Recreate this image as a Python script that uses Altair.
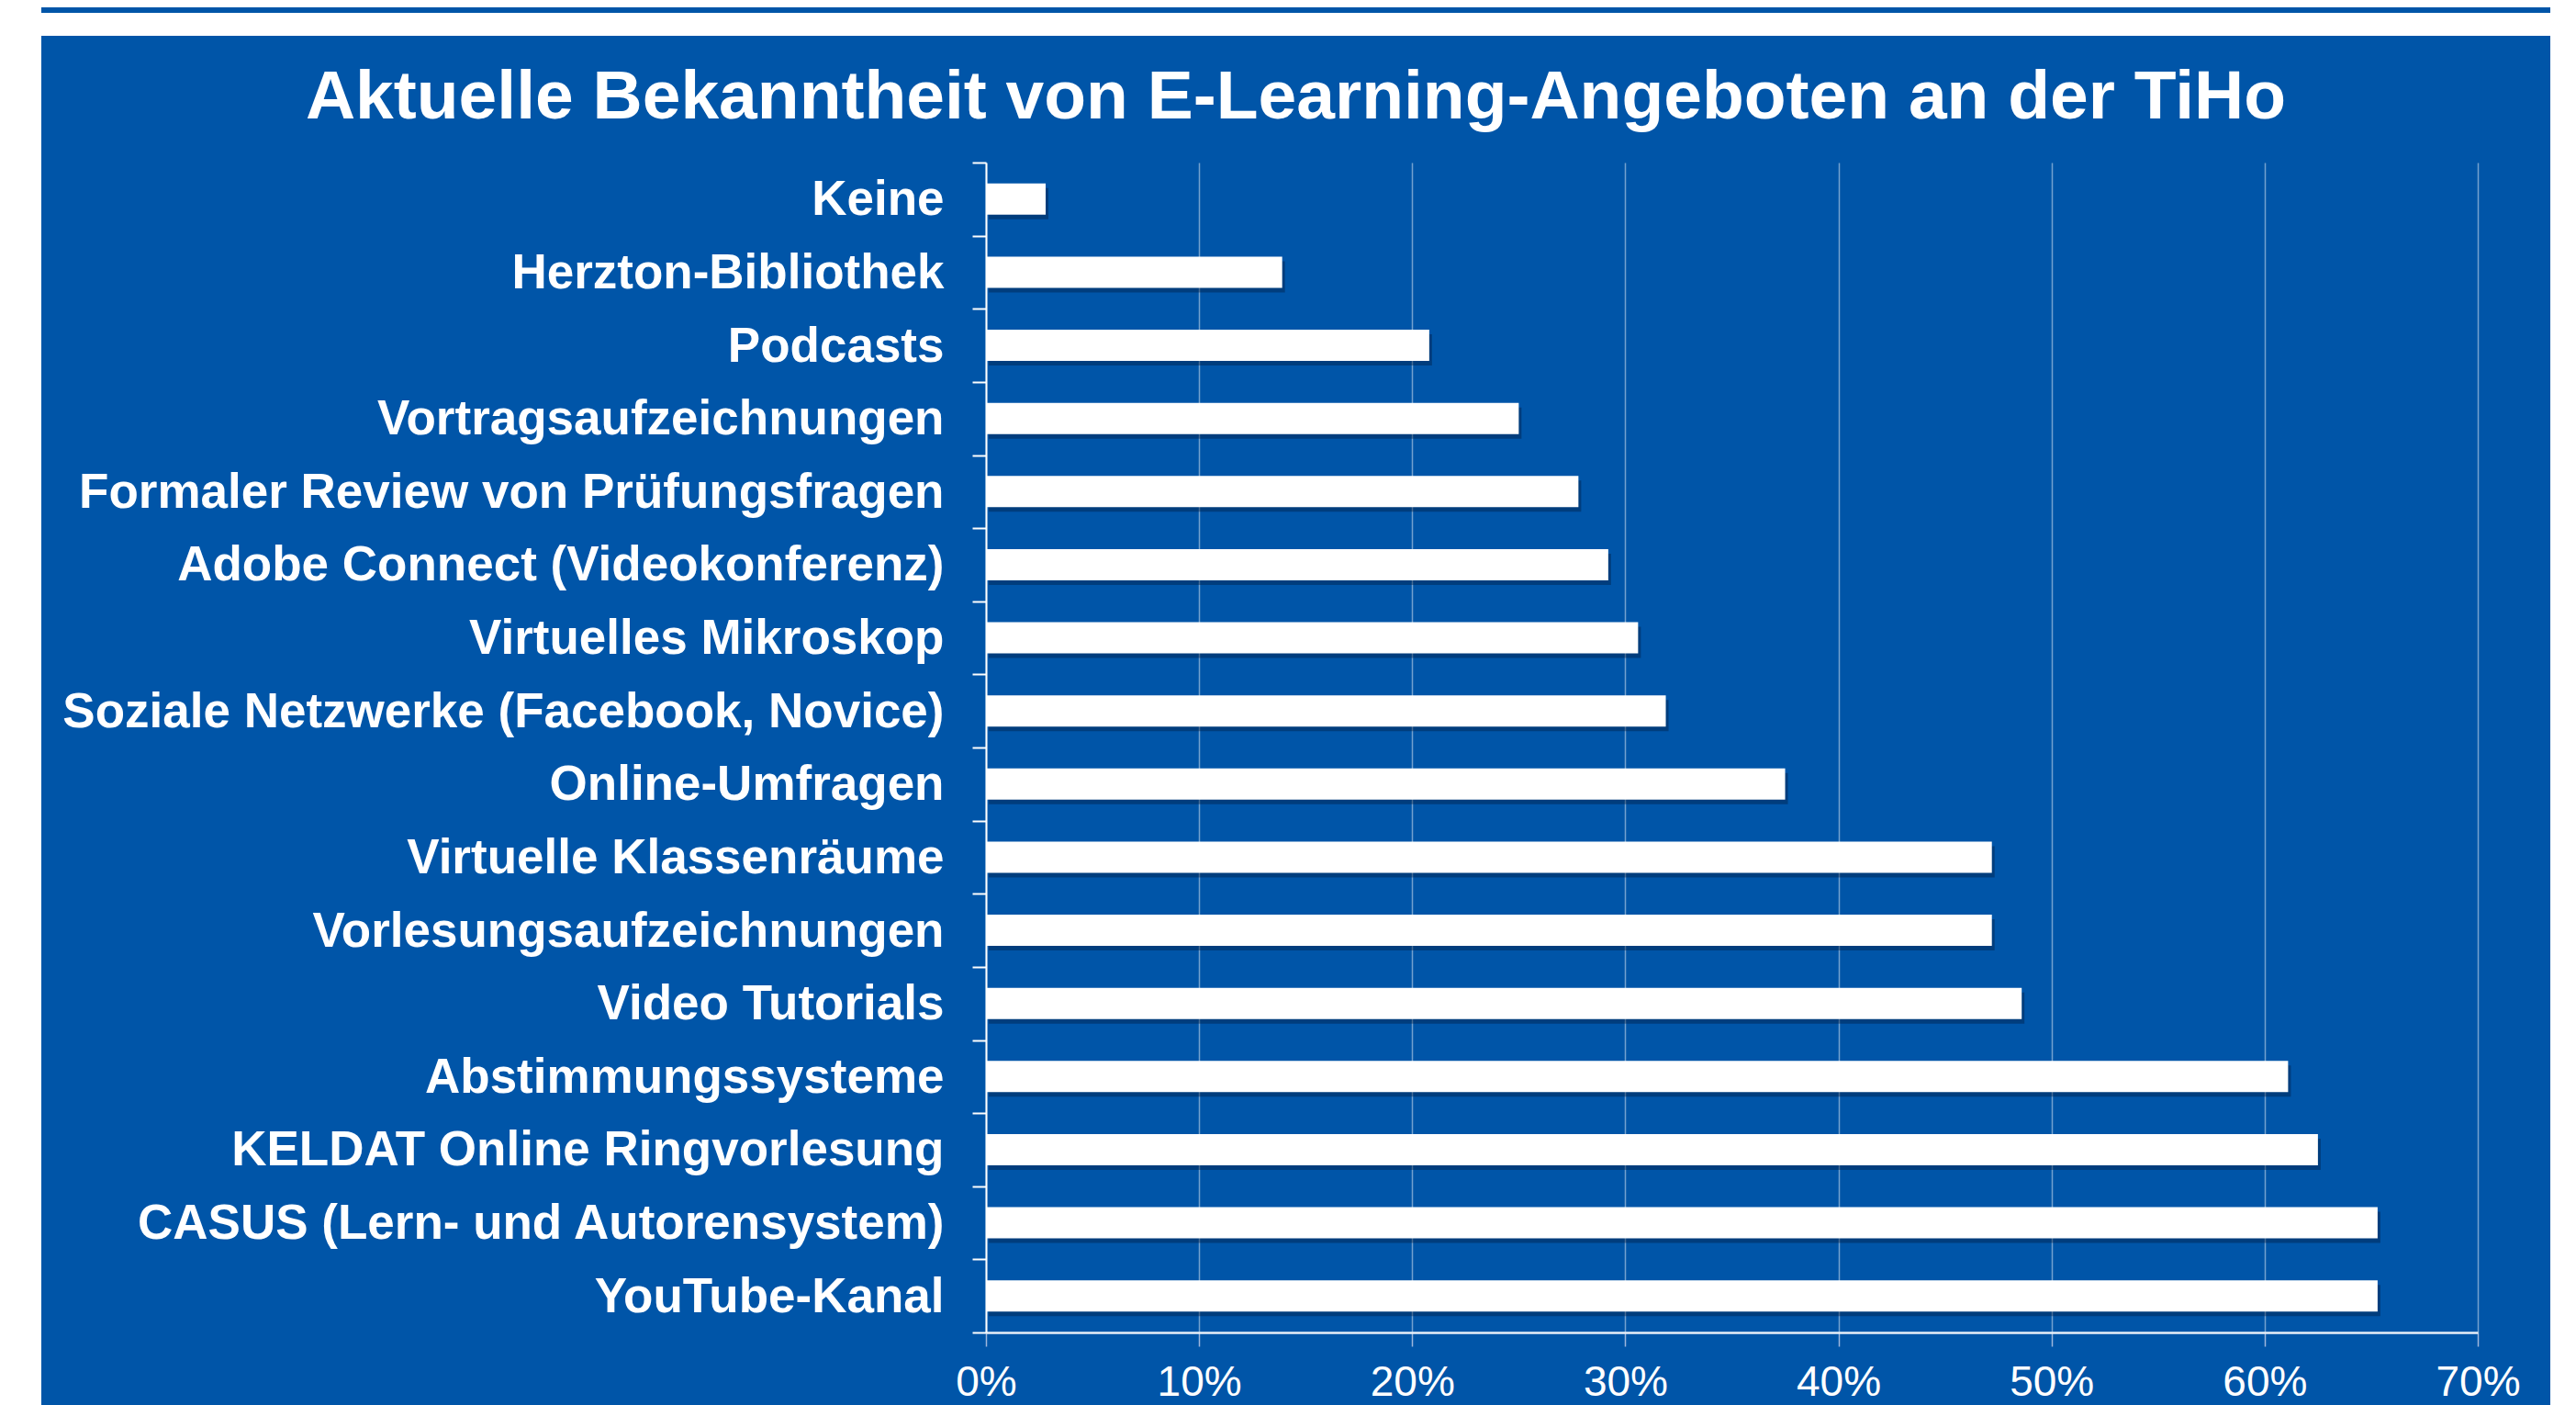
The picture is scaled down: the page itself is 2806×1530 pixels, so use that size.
import altair as alt
import pandas as pd

# ---- data ----
categories = [
    "Keine",
    "Herzton-Bibliothek",
    "Podcasts",
    "Vortragsaufzeichnungen",
    "Formaler Review von Prüfungsfragen",
    "Adobe Connect (Videokonferenz)",
    "Virtuelles Mikroskop",
    "Soziale Netzwerke (Facebook, Novice)",
    "Online-Umfragen",
    "Virtuelle Klassenräume",
    "Vorlesungsaufzeichnungen",
    "Video Tutorials",
    "Abstimmungssysteme",
    "KELDAT Online Ringvorlesung",
    "CASUS (Lern- und Autorensystem)",
    "YouTube-Kanal",
]
values = [2.8, 13.9, 20.8, 25.0, 27.8, 29.2, 30.6, 31.9, 37.5, 47.2, 47.2, 48.6, 61.1, 62.5, 65.3, 65.3]
x_ticks = [0, 10, 20, 30, 40, 50, 60, 70]
title_text = "Aktuelle Bekanntheit von E-Learning-Angeboten an der TiHo"

# ---- layout / style ----
W, H = 1625, 1274
PAD_L, PAD_T, PAD_R, PAD_B = 1066, 169, 79, 79
BLUE = "#0055A8"
FONT = "Liberation Sans"

df = pd.DataFrame({"cat": categories, "val": values})
one = pd.DataFrame({"d": [0]})
title_df = pd.DataFrame({"t": [title_text]})

# decorative page pieces (white margins around the blue panel, top strip)
white_left = alt.Chart(one).mark_rect(color="white").encode(
    x=alt.value(-PAD_L), x2=alt.value(-PAD_L + 37),
    y=alt.value(-PAD_T), y2=alt.value(H + PAD_B),
)
white_top = alt.Chart(one).mark_rect(color="white").encode(
    x=alt.value(-PAD_L), x2=alt.value(W + PAD_R),
    y=alt.value(-PAD_T), y2=alt.value(-PAD_T + 31),
)
strip = alt.Chart(one).mark_rect(color=BLUE).encode(
    x=alt.value(-PAD_L + 37), x2=alt.value(W + PAD_R),
    y=alt.value(-PAD_T), y2=alt.value(-PAD_T + 6),
)

# chart title, centred on the blue panel
title = alt.Chart(title_df).mark_text(
    font=FONT, fontSize=75, fontWeight="bold", color="white",
    align="center", baseline="alphabetic",
).encode(text="t:N", x=alt.value(337.5), y=alt.value(-48))

base = alt.Chart(df).encode(
    y=alt.Y(
        "cat:N",
        sort=categories,
        scale=alt.Scale(paddingInner=0, paddingOuter=0),
        axis=alt.Axis(
            title=None,
            labelFont=FONT,
            labelFontWeight="bold",
            labelFontSize=53,
            labelColor="white",
            labelLimit=1100,
            labelPadding=31,
            labelBaseline="middle",
            labelOffset=1,
            tickSize=15,
            tickColor="white",
            tickWidth=2,
            tickBand="extent",
            domainColor="white",
            domainWidth=2,
            grid=False,
        ),
    ),
    x=alt.X(
        "val:Q",
        scale=alt.Scale(domain=[0, 70], nice=False),
        axis=alt.Axis(
            title=None,
            values=x_ticks,
            labelExpr="datum.value + '%'",
            labelFont=FONT,
            labelFontSize=46,
            labelColor="white",
            labelPadding=17,
            labelFlush=False,
            tickSize=15,
            tickColor="#9fb6dc",
            tickWidth=1.5,
            domainColor="#e8eef8",
            domainWidth=2.5,
            grid=True,
            gridColor="white",
            gridOpacity=0.45,
            gridWidth=1.5,
        ),
    ),
)

shadow = base.mark_bar(color="#001a3d", opacity=0.4, size=34, xOffset=3, yOffset=5)
bars = base.mark_bar(color="white", size=34)

chart = alt.layer(white_left, white_top, strip, title, shadow, bars).properties(
    width=W,
    height=H,
    background=BLUE,
    padding={"left": PAD_L, "top": PAD_T, "right": PAD_R, "bottom": PAD_B},
    autosize=alt.AutoSizeParams(type="none"),
).configure_view(stroke=None)

chart.save("out.html", embed_options={"renderer": "svg", "actions": False})
